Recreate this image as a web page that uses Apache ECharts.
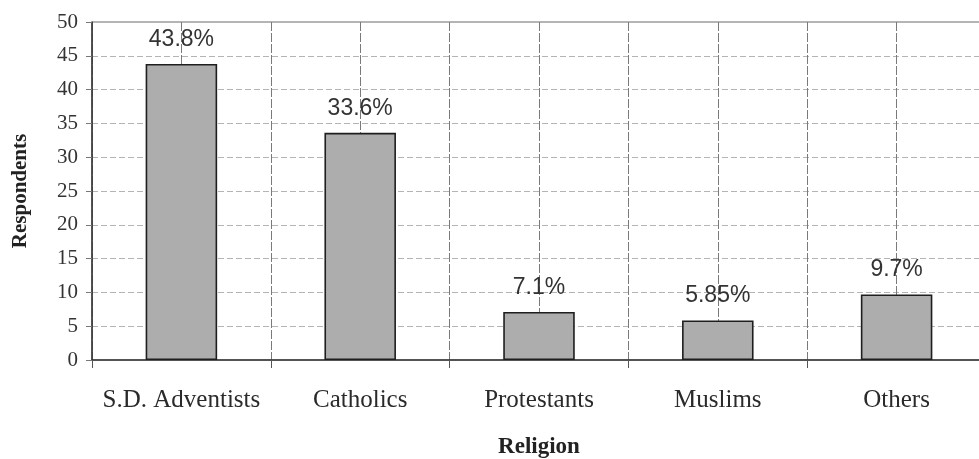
<!DOCTYPE html>
<html>
<head>
<meta charset="utf-8">
<script src="https://cdn.jsdelivr.net/npm/echarts@6/dist/echarts.min.js"></script>
<style>
  html, body { margin: 0; padding: 0; background: #ffffff; }
  #chart { width: 979px; height: 459px; }
</style>
</head>
<body>
<div id="chart"></div>
<script>
// Respondents by religion
const religions = ['S.D. Adventists', 'Catholics', 'Protestants', 'Muslims', 'Others'];
const respondents = [43.8, 33.6, 7.1, 5.85, 9.7];
const yTicks = { min: 0, max: 50, step: 5 };

const chart = echarts.init(document.getElementById('chart'), null, { renderer: 'canvas' });

const serif = '"Liberation Serif", "Times New Roman", serif';
const sans = '"Liberation Sans", Arial, sans-serif';

chart.setOption({
  backgroundColor: '#ffffff',
  animation: false,
  grid: {
    left: 92, top: 22, width: 894, bottom: 99,
    containLabel: false,
    outerBoundsMode: 'none',
    show: true, borderColor: '#6a6a6a', borderWidth: 1, backgroundColor: 'transparent'
  },
  xAxis: [
    {
      type: 'category',
      data: religions,
      boundaryGap: true,
      name: 'Religion',
      nameLocation: 'middle',
      nameGap: 76,
      nameTextStyle: { fontFamily: serif, fontWeight: 'bold', fontSize: 23, color: '#222' },
      axisLine: { show: true, lineStyle: { color: '#333', width: 1.5 } },
      axisTick: { show: true, interval: 0, length: 8, lineStyle: { color: '#555' } },
      axisLabel: { interval: 0, fontFamily: serif, fontSize: 25, color: '#2a2a2a', margin: 28 },
      splitLine: { show: false }
    },
    {
      // half-category guides: one vertical rule at every boundary and centre
      type: 'value',
      position: 'top',
      min: 0, max: 10, interval: 1,
      axisLine: { show: false },
      axisTick: { show: false },
      axisLabel: { show: false },
      splitLine: { show: true, lineStyle: { color: '#7a7a7a', width: 1, type: [9, 2] } }
    }
  ],
  yAxis: {
    type: 'value',
    min: yTicks.min, max: yTicks.max, interval: yTicks.step,
    name: 'Respondents',
    nameLocation: 'middle',
    nameGap: 61,
    nameTextStyle: { fontFamily: serif, fontWeight: 'bold', fontSize: 21, color: '#222' },
    axisLine: { show: true, lineStyle: { color: '#333', width: 1.5 } },
    axisTick: { show: true, length: 6, lineStyle: { color: '#777' } },
    axisLabel: { fontFamily: serif, fontSize: 21, color: '#333', margin: 14 },
    splitLine: { show: true, lineStyle: { color: '#b4b4b4', width: 1, type: [6, 3] } }
  },
  series: [{
    type: 'bar',
    xAxisIndex: 0,
    data: respondents,
    barWidth: '40%',
    itemStyle: { color: '#adadad', borderColor: '#1e1e1e', borderWidth: 1.6 },
    label: {
      show: true,
      position: 'top',
      distance: 13,
      fontFamily: sans,
      fontSize: 23,
      color: '#333',
      formatter: p => p.value + '%'
    }
  }]
});
</script>
</body>
</html>
